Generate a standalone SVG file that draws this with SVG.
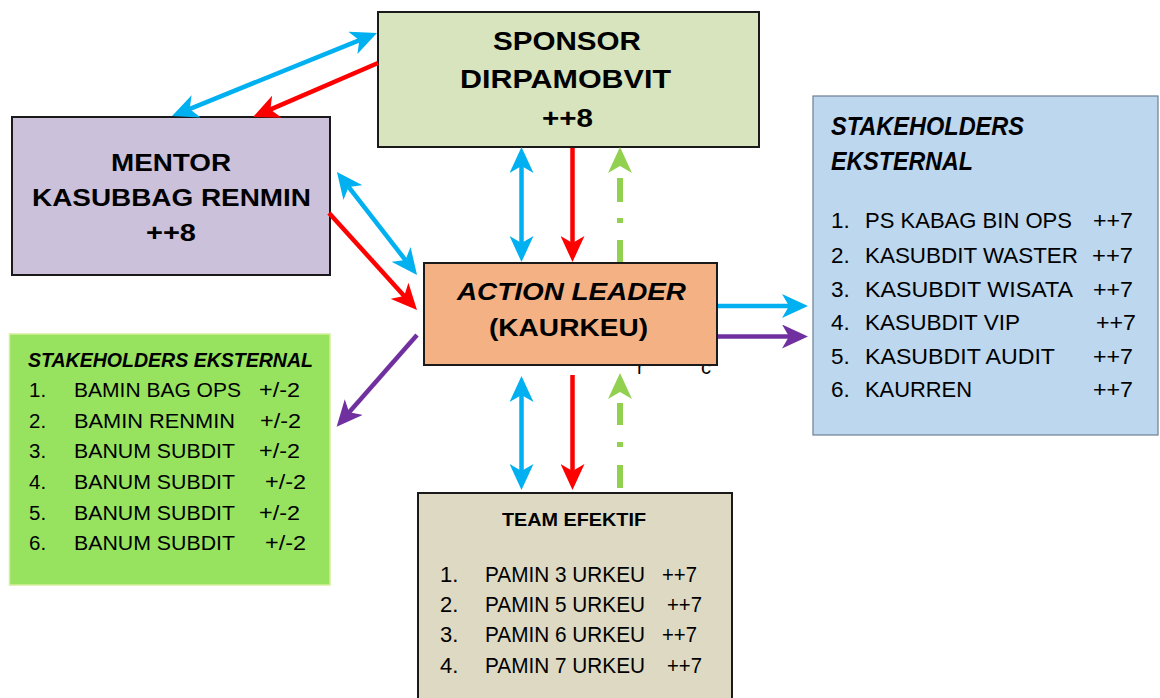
<svg xmlns="http://www.w3.org/2000/svg" width="1160" height="698" viewBox="0 0 1160 698">
<style>
.box{stroke:#1a1a1a;stroke-width:2}
.ttl{font-family:"Liberation Sans",Arial,sans-serif;font-weight:bold;fill:#000}
.it{font-style:italic}
.lst{font-family:"Liberation Sans",Arial,sans-serif;fill:#000}
.ln{fill:none;stroke-width:4.5}
.blue{stroke:#00b0f0}
.red{stroke:#ff0000}
.green{stroke:#92d050;stroke-width:6}
.purple{stroke:#7030a0}
</style>
<defs>
<marker id="hb" viewBox="0 0 26 24" markerWidth="26" markerHeight="24" refX="8" refY="12" orient="auto-start-reverse" markerUnits="userSpaceOnUse"><path d="M0,0 L26,12 L0,24 L7,12 Z" fill="#00b0f0"/></marker>
<marker id="hr" viewBox="0 0 26 24" markerWidth="26" markerHeight="24" refX="8" refY="12" orient="auto-start-reverse" markerUnits="userSpaceOnUse"><path d="M0,0 L26,12 L0,24 L7,12 Z" fill="#ff0000"/></marker>
<marker id="hg" viewBox="0 0 26 24" markerWidth="26" markerHeight="24" refX="8" refY="12" orient="auto-start-reverse" markerUnits="userSpaceOnUse"><path d="M0,0 L26,12 L0,24 L7,12 Z" fill="#92d050"/></marker>
<marker id="hp" viewBox="0 0 26 24" markerWidth="26" markerHeight="24" refX="8" refY="12" orient="auto-start-reverse" markerUnits="userSpaceOnUse"><path d="M0,0 L26,12 L0,24 L7,12 Z" fill="#7030a0"/></marker>
<clipPath id="frag"><rect x="600" y="366" width="150" height="12"/></clipPath>
</defs>
<rect width="1160" height="698" fill="#fff"/>

<g id="sponsor">
<rect class="box" x="378" y="12" width="381" height="135" fill="#d7e4bd"/>
<text class="ttl" x="493" y="50" font-size="25.5" textLength="148" lengthAdjust="spacingAndGlyphs">SPONSOR</text>
<text class="ttl" x="460" y="88" font-size="25.5" textLength="211" lengthAdjust="spacingAndGlyphs">DIRPAMOBVIT</text>
<text class="ttl" x="542" y="127" font-size="25.5" textLength="51" lengthAdjust="spacingAndGlyphs">++8</text>
</g>

<g id="mentor">
<rect class="box" x="12" y="117" width="318" height="158" fill="#ccc1da"/>
<text class="ttl" x="111" y="171" font-size="23.5" textLength="120" lengthAdjust="spacingAndGlyphs">MENTOR</text>
<text class="ttl" x="32" y="206" font-size="23.5" textLength="279" lengthAdjust="spacingAndGlyphs">KASUBBAG RENMIN</text>
<text class="ttl" x="146" y="241" font-size="23.5" textLength="50" lengthAdjust="spacingAndGlyphs">++8</text>
</g>

<g id="action-leader">
<rect class="box" x="424" y="263" width="293" height="102" fill="#f4b183"/>
<text class="ttl it" x="457" y="300" font-size="23" textLength="229" lengthAdjust="spacingAndGlyphs">ACTION LEADER</text>
<text class="ttl" x="489" y="336" font-size="23" textLength="159" lengthAdjust="spacingAndGlyphs">(KAURKEU)</text>
</g>

<g id="fragment" clip-path="url(#frag)">
<text class="lst" x="637" y="374" font-size="20">r</text>
<text class="lst" x="701" y="374" font-size="20">c</text>
</g>

<g id="stakeholders-right">
<rect x="813" y="96" width="345" height="339" fill="#bdd7ee" stroke="#6d7f93" stroke-width="1.2"/>
<text class="ttl it" x="831" y="135" font-size="25" textLength="193" lengthAdjust="spacingAndGlyphs">STAKEHOLDERS</text>
<text class="ttl it" x="831" y="170" font-size="25" textLength="142" lengthAdjust="spacingAndGlyphs">EKSTERNAL</text>
<g class="lst" font-size="22.5">
<text x="831" y="228">1.</text><text x="865" y="228" textLength="207" lengthAdjust="spacingAndGlyphs">PS KABAG BIN OPS</text><text x="1093" y="228" textLength="40" lengthAdjust="spacingAndGlyphs">++7</text>
<text x="831" y="263">2.</text><text x="865" y="263" textLength="213" lengthAdjust="spacingAndGlyphs">KASUBDIT WASTER</text><text x="1092" y="263" textLength="41" lengthAdjust="spacingAndGlyphs">++7</text>
<text x="831" y="297">3.</text><text x="865" y="297" textLength="208" lengthAdjust="spacingAndGlyphs">KASUBDIT WISATA</text><text x="1093" y="297" textLength="40" lengthAdjust="spacingAndGlyphs">++7</text>
<text x="831" y="330">4.</text><text x="865" y="330" textLength="155" lengthAdjust="spacingAndGlyphs">KASUBDIT VIP</text><text x="1096" y="330" textLength="40" lengthAdjust="spacingAndGlyphs">++7</text>
<text x="831" y="364">5.</text><text x="865" y="364" textLength="190" lengthAdjust="spacingAndGlyphs">KASUBDIT AUDIT</text><text x="1093" y="364" textLength="40" lengthAdjust="spacingAndGlyphs">++7</text>
<text x="831" y="397">6.</text><text x="865" y="397" textLength="107" lengthAdjust="spacingAndGlyphs">KAURREN</text><text x="1093" y="397" textLength="40" lengthAdjust="spacingAndGlyphs">++7</text>
</g>
</g>

<g id="stakeholders-left">
<rect x="9.5" y="334" width="320.5" height="251" fill="#97e35f" stroke="#d6ee9a" stroke-width="1.5"/>
<text class="ttl it" x="28" y="367" font-size="19.5" textLength="285" lengthAdjust="spacingAndGlyphs">STAKEHOLDERS EKSTERNAL</text>
<g class="lst" font-size="20.5">
<text x="29" y="397">1.</text><text x="74" y="397" textLength="167" lengthAdjust="spacingAndGlyphs">BAMIN BAG OPS</text><text x="259" y="397" textLength="41" lengthAdjust="spacingAndGlyphs">+/-2</text>
<text x="29" y="428">2.</text><text x="74" y="428" textLength="161" lengthAdjust="spacingAndGlyphs">BAMIN RENMIN</text><text x="260" y="428" textLength="41" lengthAdjust="spacingAndGlyphs">+/-2</text>
<text x="29" y="458">3.</text><text x="74" y="458" textLength="161" lengthAdjust="spacingAndGlyphs">BANUM SUBDIT</text><text x="259" y="458" textLength="41" lengthAdjust="spacingAndGlyphs">+/-2</text>
<text x="29" y="489">4.</text><text x="74" y="489" textLength="161" lengthAdjust="spacingAndGlyphs">BANUM SUBDIT</text><text x="265" y="489" textLength="41" lengthAdjust="spacingAndGlyphs">+/-2</text>
<text x="29" y="520">5.</text><text x="74" y="520" textLength="161" lengthAdjust="spacingAndGlyphs">BANUM SUBDIT</text><text x="259" y="520" textLength="41" lengthAdjust="spacingAndGlyphs">+/-2</text>
<text x="29" y="550">6.</text><text x="74" y="550" textLength="161" lengthAdjust="spacingAndGlyphs">BANUM SUBDIT</text><text x="265" y="550" textLength="41" lengthAdjust="spacingAndGlyphs">+/-2</text>
</g>
</g>

<g id="team-efektif">
<rect class="box" x="418" y="493" width="314" height="210" fill="#ddd9c3"/>
<text class="ttl" x="502" y="526" font-size="18" textLength="144" lengthAdjust="spacingAndGlyphs">TEAM EFEKTIF</text>
<g class="lst" font-size="22">
<text x="440" y="582">1.</text><text x="485" y="582" textLength="160" lengthAdjust="spacingAndGlyphs">PAMIN 3 URKEU</text><text x="662" y="582" textLength="35" lengthAdjust="spacingAndGlyphs">++7</text>
<text x="440" y="612">2.</text><text x="485" y="612" textLength="160" lengthAdjust="spacingAndGlyphs">PAMIN 5 URKEU</text><text x="667" y="612" textLength="35" lengthAdjust="spacingAndGlyphs">++7</text>
<text x="440" y="642">3.</text><text x="485" y="642" textLength="160" lengthAdjust="spacingAndGlyphs">PAMIN 6 URKEU</text><text x="662" y="642" textLength="35" lengthAdjust="spacingAndGlyphs">++7</text>
<text x="440" y="673">4.</text><text x="485" y="673" textLength="160" lengthAdjust="spacingAndGlyphs">PAMIN 7 URKEU</text><text x="667" y="673" textLength="35" lengthAdjust="spacingAndGlyphs">++7</text>
</g>
</g>

<g id="connectors">
<line class="ln blue" x1="188.7" y1="109.3" x2="360.3" y2="39.8" marker-start="url(#hb)" marker-end="url(#hb)"/>
<line class="ln red" x1="378" y1="63" x2="269.5" y2="109.9" marker-end="url(#hr)"/>
<line class="ln blue" x1="348" y1="186.2" x2="406" y2="260.8" marker-start="url(#hb)" marker-end="url(#hb)"/>
<line class="ln red" x1="329" y1="213" x2="404.9" y2="296.7" marker-end="url(#hr)"/>
<line class="ln blue" x1="521.5" y1="165" x2="521.5" y2="244" marker-start="url(#hb)" marker-end="url(#hb)"/>
<line class="ln red" x1="572.5" y1="148" x2="572.5" y2="244" marker-end="url(#hr)"/>
<line class="ln green" x1="620" y1="262" x2="620" y2="165" stroke-dasharray="22 17 5 16 24 100" marker-end="url(#hg)"/>
<line class="ln blue" x1="521.5" y1="394" x2="521.5" y2="472" marker-start="url(#hb)" marker-end="url(#hb)"/>
<line class="ln red" x1="572.5" y1="375" x2="572.5" y2="472" marker-end="url(#hr)"/>
<line class="ln green" x1="620" y1="488" x2="620" y2="391" stroke-dasharray="23 18 5 17 22 100" marker-end="url(#hg)"/>
<line class="ln blue" x1="718" y1="306" x2="790" y2="306" marker-end="url(#hb)"/>
<line class="ln purple" x1="718" y1="336.5" x2="790" y2="336.5" marker-end="url(#hp)"/>
<line class="ln purple" x1="417" y1="335" x2="348.5" y2="413.1" marker-end="url(#hp)"/>
</g>
</svg>
